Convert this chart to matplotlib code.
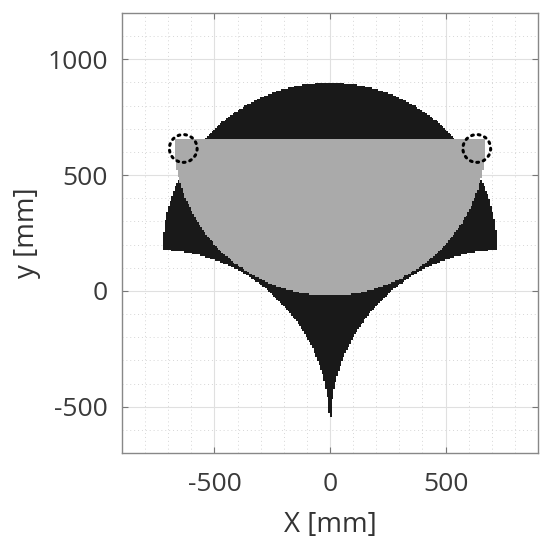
import numpy as np
import matplotlib
matplotlib.use("Agg")
import matplotlib.pyplot as plt
from matplotlib.patches import Circle

# ---- data (in mm) ----
# reachable region: main disc minus two cutting discs
main_disc_center = [0, 177]
main_disc_radius = 722
cut_disc_x = [-751, 751]
cut_disc_y = [-570, -570]
cut_disc_radius = 748
# gray region: lower half of a disc
gray_disc_center = [0, 655]
gray_disc_radius = 675
gray_top_y = 657
# dotted marker circles
marker_x = [-635, 635]
marker_y = [615, 615]
marker_r = [60, 60]

x_ticks = [-500, 0, 500]
y_ticks = [-500, 0, 500, 1000]
x_lim = [-900, 900]
y_lim = [-700, 1200]

plt.rcParams['font.family'] = ['Open Sans', 'DejaVu Sans']
plt.rcParams['axes.unicode_minus'] = False

fig = plt.figure(figsize=(5.5, 5.48), dpi=100)
ax = fig.add_axes([122/550, 95/548, 416/550, 440/548])

# raster grid for the regions
step = 7
xs = np.arange(x_lim[0], x_lim[1] + step, step)
ys = np.arange(y_lim[0], y_lim[1] + step, step)
X, Y = np.meshgrid(xs, ys)

black = (X - main_disc_center[0])**2 + (Y - main_disc_center[1])**2 <= main_disc_radius**2
for cx, cy in zip(cut_disc_x, cut_disc_y):
    black &= (X - cx)**2 + (Y - cy)**2 > cut_disc_radius**2
gray = ((X - gray_disc_center[0])**2 + (Y - gray_disc_center[1])**2 <= gray_disc_radius**2) & (Y <= gray_top_y)

img = np.zeros(X.shape + (4,))
img[black] = [0.10, 0.10, 0.10, 1.0]
img[gray] = [0.67, 0.67, 0.67, 1.0]
ax.imshow(img, origin='lower', interpolation='nearest',
          extent=[xs[0] - step/2, xs[-1] + step/2, ys[0] - step/2, ys[-1] + step/2],
          aspect='auto', zorder=1)

for mx, my, mr in zip(marker_x, marker_y, marker_r):
    ax.add_patch(Circle((mx, my), mr, fill=False, edgecolor='black',
                        linestyle=(0, (0.6, 1.6)), linewidth=2.2, zorder=3,
                        capstyle='round'))

ax.set_xlim(x_lim)
ax.set_ylim(y_lim)
ax.set_xticks(x_ticks)
ax.set_yticks(y_ticks)
ax.set_xticks(np.arange(-900, 901, 100), minor=True)
ax.set_yticks(np.arange(-700, 1201, 100), minor=True)
ax.set_axisbelow(True)
ax.grid(which='major', color='#e0e0e0', linewidth=0.8, linestyle='-')
ax.grid(which='minor', color='#d6d6d6', linewidth=0.7, linestyle=(0, (1, 3)))

ax.tick_params(which='major', direction='in', length=4, width=0.8, color='#777777',
               top=True, right=True, labelsize=19, labelcolor='#3a3a3a')
ax.tick_params(axis='x', which='major', pad=14)
ax.tick_params(axis='y', which='major', pad=10)
ax.tick_params(which='minor', length=0, top=True, right=True)
for s in ax.spines.values():
    s.set_color('#888888')
    s.set_linewidth(1.0)

ax.set_xlabel('X [mm]', fontsize=20, color='#333333', labelpad=10)
ax.set_ylabel('y [mm]', fontsize=20, color='#333333', labelpad=5)

fig.savefig('out.png', dpi=100)
